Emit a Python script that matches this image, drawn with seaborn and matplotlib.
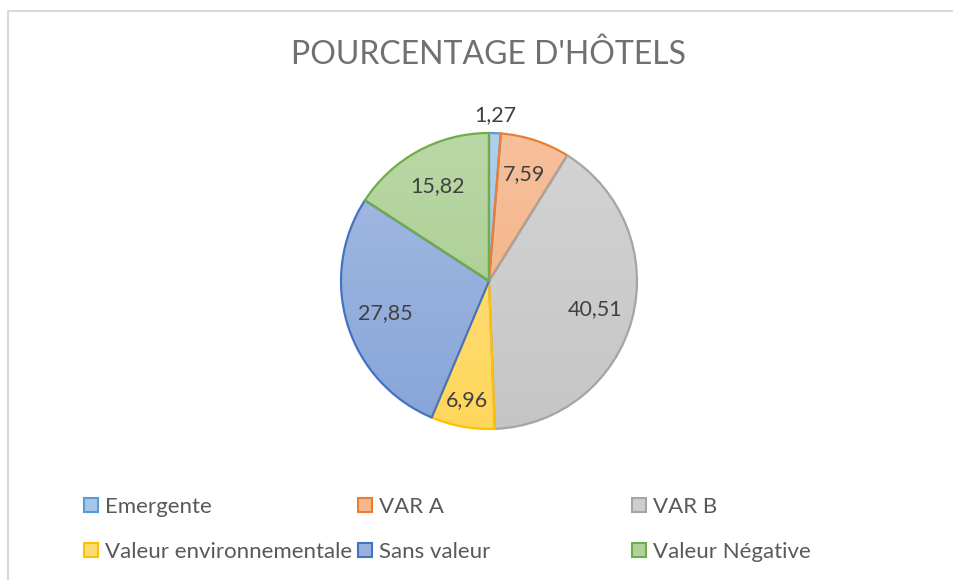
import numpy as np
import matplotlib.pyplot as plt
import seaborn as sns
from matplotlib.colors import to_rgb, LinearSegmentedColormap
from matplotlib.patches import Patch, Rectangle

categories = ["Emergente", "VAR A", "VAR B", "Valeur environnementale",
              "Sans valeur", "Valeur Négative"]
values = [1.27, 7.59, 40.51, 6.96, 27.85, 15.82]
labels = ["1,27", "7,59", "40,51", "6,96", "27,85", "15,82"]
title = "POURCENTAGE D'HÔTELS"

# Excel-like palette (edge colours); fills are lighter gradients of them
edge_colors = ["#5b9bd5", "#ed7d31", "#a5a5a5", "#ffc000", "#4472c4", "#70ad47"]

# radial position of each data label (fraction of radius)
label_dist = [1.12, 0.76, 0.74, 0.82, 0.73, 0.73]


def tint(c, f):
    r = np.array(to_rgb(c))
    return tuple(r + (1 - r) * f)


W, H = 954, 580
sns.set_theme(style="white")
plt.rcParams["font.family"] = ["Lato", "DejaVu Sans"]

fig = plt.figure(figsize=(W / 100, H / 100), dpi=100)
fig.patch.set_facecolor("white")

# chart frame (light grey border, cropped on right/bottom)
fig.add_artist(Rectangle((8.5 / W, -0.1), 1.2, 1 - 10.5 / H + 0.1,
                         transform=fig.transFigure, fill=False,
                         edgecolor="#d9d9d9", linewidth=1.5))

fig.text(489 / W, 1 - 55 / H, title, ha="center", va="center",
         fontsize=23, color="#707070")

cx, cy, r = 489, 281, 148
ax = fig.add_axes([(cx - r) / W, (H - cy - r) / H, 2 * r / W, 2 * r / H])
wedges, _ = ax.pie(values, startangle=90, counterclock=False, radius=1,
                   wedgeprops=dict(linewidth=1.6))
grad = np.linspace(0, 1, 256).reshape(-1, 1)
for w, c in zip(wedges, edge_colors):
    w.set_edgecolor(c)
    w.set_facecolor("none")
    w.set_zorder(2)
    cmap = LinearSegmentedColormap.from_list("g", [tint(c, 0.36), tint(c, 0.52)])
    im = ax.imshow(grad, extent=[-1, 1, -1, 1], origin="lower", cmap=cmap,
                   aspect="auto", zorder=1)
    im.set_clip_path(w)

# data labels
for w, lab, d in zip(wedges, labels, label_dist):
    ang = np.deg2rad((w.theta1 + w.theta2) / 2)
    ax.text(d * np.cos(ang), d * np.sin(ang), lab, ha="center", va="center",
            fontsize=15.5, color="#404040", zorder=3)

ax.set_xlim(-1, 1)
ax.set_ylim(-1, 1)
ax.axis("off")

# legend, three equal columns like Excel's wrapped legend
legend_pos = [(84, 507), (358, 507), (632, 507), (84, 552), (358, 552), (632, 552)]
for cat, c, (lx, ly) in zip(categories, edge_colors, legend_pos):
    h = Patch(facecolor=tint(c, 0.45), edgecolor=c, linewidth=1.5)
    fig.legend(handles=[h], labels=[cat], loc="center left",
               bbox_to_anchor=(lx / W, 1 - ly / H), frameon=False,
               borderpad=0, borderaxespad=0, handlelength=0.63,
               handleheight=0.63, handletextpad=0.3, fontsize=16,
               labelcolor="#595959")

fig.savefig("out.png", dpi=100, facecolor="white")
